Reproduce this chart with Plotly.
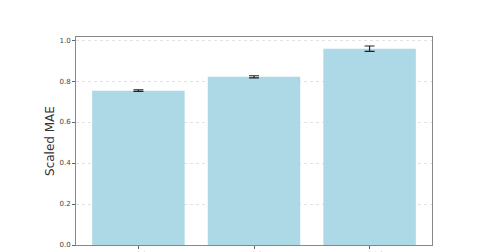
import plotly.graph_objects as go

categories = ["Model A", "Model B", "Model C"]
values = [0.753, 0.821, 0.958]
errors = [0.004, 0.005, 0.013]
y_ticks = [0.0, 0.2, 0.4, 0.6, 0.8, 1.0]
y_tick_labels = ["0.0", "0.2", "0.4", "0.6", "0.8", "1.0"]

fig = go.Figure()
fig.add_trace(go.Bar(
    x=categories, y=values,
    marker=dict(color="#ADD8E6", line=dict(width=0)),
    width=0.8,
    error_y=dict(type="data", array=errors, visible=True,
                 color="#222222", thickness=1.2, width=5),
))

fig.update_layout(
    width=500, height=252,
    margin=dict(l=76, r=68, t=37, b=7),
    paper_bgcolor="white", plot_bgcolor="white",
    showlegend=False,
    font=dict(family="DejaVu Sans", color="#444444"),
)
fig.update_xaxes(
    range=[-0.54, 2.54],
    showline=True, mirror=True, linecolor="#888888", linewidth=1,
    ticks="outside", ticklen=3, tickcolor="#666666",
    tickfont=dict(size=7), showgrid=False, automargin=False,
)
fig.update_yaxes(
    range=[0, 1.015],
    tickvals=y_ticks, ticktext=y_tick_labels,
    showline=True, mirror=True, linecolor="#888888", linewidth=1,
    ticks="outside", ticklen=3, tickcolor="#666666",
    tickfont=dict(size=7, color="#444444"),
    showgrid=True, gridcolor="#e2e2e2", griddash="dot", gridwidth=1,
    zeroline=False, automargin=False,
    title=dict(text="Scaled MAE", font=dict(size=12, color="#333333"), standoff=2),
)

fig.write_html("out.html")
